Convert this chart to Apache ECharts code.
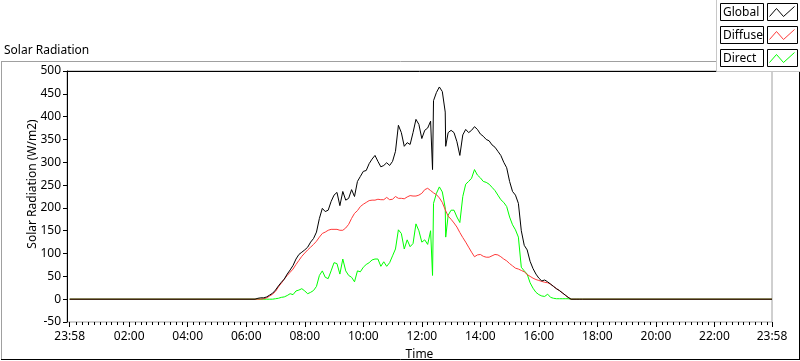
<!DOCTYPE html>
<html><head><meta charset="utf-8">
<script src="https://cdn.jsdelivr.net/npm/echarts@6/dist/echarts.min.js"></script>
<style>html,body{margin:0;padding:0;background:#fff}#c{width:800px;height:361px}</style>
</head><body><div id="c"></div>
<script>
// ---- data ----
const times = ["06:18","06:24","06:30","06:36","06:42","06:48","06:54","07:00","07:06","07:12",
"07:18","07:24","07:30","07:36","07:42","07:48","07:54","08:00","08:06","08:12",
"08:18","08:24","08:30","08:36","08:42","08:48","08:54","09:00","09:06","09:12",
"09:18","09:24","09:30","09:36","09:42","09:48","09:54","10:00","10:06","10:12",
"10:18","10:24","10:30","10:36","10:42","10:48","10:54","11:00","11:06","11:12",
"11:18","11:24","11:30","11:36","11:42","11:48","11:54","12:00","12:06","12:12",
"12:18","12:22","12:24","12:30","12:36","12:42","12:48","12:49","12:54","13:00",
"13:06","13:12","13:18","13:24","13:30","13:36","13:42","13:48","13:54","14:00",
"14:06","14:12","14:18","14:24","14:30","14:36","14:42","14:48","14:54","15:00",
"15:06","15:12","15:18","15:24","15:30","15:36","15:42","15:48","15:54","16:00",
"16:06","16:12","16:18","16:24","16:30","16:36","16:42","16:48","16:54","17:00",
"17:06","17:12","17:18","17:24","17:30"];

const globalRad = [0,2,3,3,5,9,13,20,29,37,
44,55,64,74,88,98,103,108,114,125,
133,147,177,199,192,195,214,228,234,205,
236,217,221,240,225,258,269,280,282,297,
307,315,302,290,293,299,293,302,324,381,
365,335,343,339,365,394,383,352,370,375,
390,284,435,453,465,455,410,335,365,370,
365,345,315,360,372,365,370,378,372,362,
357,350,347,338,333,324,315,300,288,258,
236,228,210,150,118,108,83,67,55,46,
40,42,38,33,28,23,19,14,9,4,
0,0,0,0,0];

const diffuseRad = [0,0,0,1,3,7,11,17,27,35,
44,52,59,66,76,85,94,101,108,114,
120,127,136,144,147,151,153,153,153,151,
151,156,164,177,188,194,203,208,212,216,
217,217,219,218,218,223,218,219,225,221,
221,220,224,227,226,226,228,232,240,243,
238,235,233,229,222,212,196,193,182,175,
167,158,146,135,125,114,103,93,97,98,
94,92,92,95,98,97,93,88,84,78,
73,68,66,63,60,54,50,46,43,41,
39,37,36,33,28,23,19,14,9,4,
0,0,0,0,0];

const directRad = [0,0,0,0,0,0,0,1,2,4,
5,8,12,10,18,20,23,18,12,15,
19,28,52,62,48,45,62,80,78,55,
88,62,52,48,38,62,60,70,76,80,
86,88,88,72,82,72,80,95,110,152,
144,110,130,115,122,165,150,125,130,120,
150,52,210,232,246,235,200,136,184,195,
195,180,168,225,252,258,265,284,272,266,
258,256,252,245,238,228,218,212,203,180,
163,152,136,70,62,55,36,24,15,10,
7,6,11,4,2,1,1,1,1,1,
0,0,0,0,0];

const dayStart = -2;    // 23:58 of the previous day, in minutes
const dayEnd = 1438;    // 23:58
const xTickValues = [-2,120,240,360,480,600,720,840,960,1080,1200,1320,1438];
const xTickLabels = ["23:58","02:00","04:00","06:00","08:00","10:00","12:00","14:00","16:00","18:00","20:00","22:00","23:58"];
const seriesNames = ["Global","Diffuse","Direct"];
const seriesColors = ["#000000","#ff3a3a","#00ff00"];

// ---- build ----
function toMin(t){const p=t.split(':');return (+p[0])*60+(+p[1]);}
function build(arr){
  const d=[[dayStart,0]];
  times.forEach((t,k)=>d.push([toMin(t),arr[k]]));
  d.push([dayEnd,0]);
  return d;
}
const minorTicks=[];
for(let m=12;m<1438;m+=12){ if(m%120!==0) minorTicks.push(m); }

const FONT='Noto Sans';
const chart=echarts.init(document.getElementById('c'),null,{renderer:'canvas'});

const legendGraphics=[];
legendGraphics.push({type:'rect',z:100,shape:{x:716.5,y:-1,width:90,height:72.5},style:{fill:'#fff',stroke:'#c8c8c8',lineWidth:1}});
seriesNames.forEach((n,i)=>{
  const top=3.5+23*i;
  legendGraphics.push({type:'rect',z:101,shape:{x:720.5,y:top,width:43,height:17},style:{fill:'#fff',stroke:'#000',lineWidth:1}});
  legendGraphics.push({type:'text',z:102,x:723,y:top+9,style:{text:n,fill:'#000',font:'12px "'+FONT+'"',textVerticalAlign:'middle',textAlign:'left'}});
  legendGraphics.push({type:'rect',z:101,shape:{x:767.5,y:top,width:30,height:17},style:{fill:'#fff',stroke:'#000',lineWidth:1}});
  legendGraphics.push({type:'polyline',z:102,shape:{points:[[769.5,top+13],[776.5,top+5],[783.5,top+13],[794.5,top+3]]},style:{stroke:seriesColors[i],lineWidth:1,fill:null}});
});

const option={
  animation:false,
  backgroundColor:'#fff',
  textStyle:{fontFamily:FONT},
  title:{text:'Solar Radiation',left:4,top:45,padding:0,textStyle:{fontSize:12,fontWeight:'normal',color:'#000',fontFamily:FONT}},
  grid:{left:67,right:28,top:71,bottom:39,show:true,borderColor:'#a0a0a0',borderWidth:1,backgroundColor:'#fff',outerBoundsMode:'none',containLabel:false},
  xAxis:[
    {type:'value',min:-7.5,max:dayEnd,position:'bottom',
     axisLine:{show:false,onZero:false},splitLine:{show:false},
     axisTick:{show:true,customValues:xTickValues,length:5,lineStyle:{color:'#000'}},
     axisLabel:{customValues:xTickValues,formatter:v=>{const k=xTickValues.indexOf(v);return k>=0?xTickLabels[k]:'';},color:'#000',fontSize:12,margin:9,fontFamily:FONT},
     name:'Time',nameLocation:'middle',nameGap:27,nameTextStyle:{color:'#000',fontSize:12,fontFamily:FONT}},
    {type:'value',min:-7.5,max:dayEnd,position:'bottom',
     axisLine:{show:false,onZero:false},splitLine:{show:false},axisLabel:{show:false},
     axisTick:{show:true,customValues:minorTicks,length:3,lineStyle:{color:'#000'}}},
    {type:'value',min:-7.5,max:dayEnd,position:'top',
     axisLine:{show:true,onZero:false,lineStyle:{color:'#000'}},axisTick:{show:false},axisLabel:{show:false},splitLine:{show:false}}
  ],
  yAxis:{type:'value',min:-50,max:500,interval:50,
    axisLine:{show:true,onZero:false,lineStyle:{color:'#000'}},
    axisTick:{show:true,length:4,lineStyle:{color:'#000'}},
    axisLabel:{color:'#000',fontSize:12,margin:6,fontFamily:FONT},
    splitLine:{show:false}},
  graphic:[
    {type:'line',z:90,shape:{x1:1,y1:61.5,x2:800,y2:61.5},style:{stroke:'#a0a0a0',lineWidth:1}},
    {type:'line',z:90,shape:{x1:1.5,y1:61.5,x2:1.5,y2:360},style:{stroke:'#a0a0a0',lineWidth:1}},
    {type:'line',z:90,shape:{x1:799.5,y1:61.5,x2:799.5,y2:360},style:{stroke:'#000',lineWidth:1}},
    {type:'line',z:90,shape:{x1:1,y1:359.5,x2:800,y2:359.5},style:{stroke:'#000',lineWidth:1}},
    {type:'text',z:90,x:33,y:184,rotation:Math.PI/2,style:{text:'Solar Radiation (W/m2)',fill:'#000',font:'12px "'+FONT+'"',textAlign:'center',textVerticalAlign:'middle'}}
  ].concat(legendGraphics),
  series:[
    {name:'Direct',type:'line',xAxisIndex:0,data:build(directRad),showSymbol:false,symbol:'none',lineStyle:{color:seriesColors[2],width:1},itemStyle:{color:seriesColors[2]}},
    {name:'Diffuse',type:'line',xAxisIndex:0,data:build(diffuseRad),showSymbol:false,symbol:'none',lineStyle:{color:seriesColors[1],width:1},itemStyle:{color:seriesColors[1]}},
    {name:'Global',type:'line',xAxisIndex:0,data:build(globalRad),showSymbol:false,symbol:'none',lineStyle:{color:seriesColors[0],width:1},itemStyle:{color:seriesColors[0]}}
  ]
};
chart.setOption(option);
</script></body></html>
